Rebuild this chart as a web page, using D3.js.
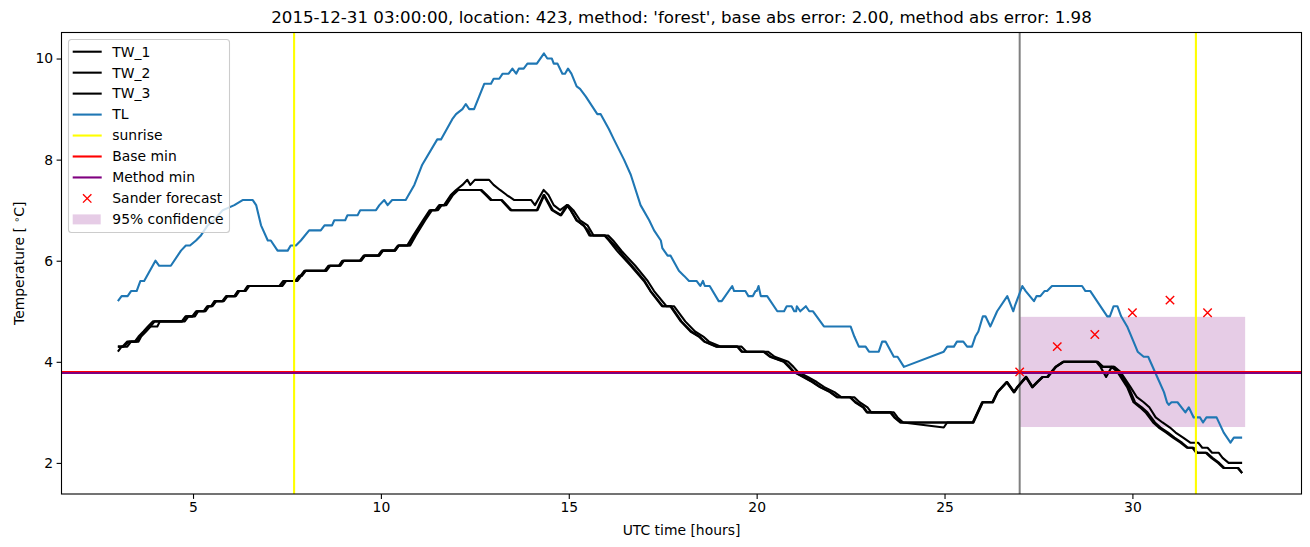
<!DOCTYPE html>
<html>
<head>
<meta charset="utf-8">
<script src="https://cdn.jsdelivr.net/npm/d3@7"></script>
<style>
  body { margin: 0; background: #fff; }
  svg { font-family: "DejaVu Sans", sans-serif; }
</style>
</head>
<body>
<div id="chart"></div>
<script>
// values: [UTC hour, temperature]
const tw1 = [
  [3.0,4.3],[3.12,4.3],[3.25,4.4],[3.45,4.4],[3.55,4.5],[3.68,4.6],[3.8,4.7],[3.93,4.8],[4.72,4.8],[4.82,4.9],
  [4.98,4.9],[5.08,5.0],[5.28,5.0],[5.38,5.1],[5.48,5.1],[5.57,5.2],[5.78,5.2],[5.88,5.3],[6.1,5.3],[6.19,5.4],
  [6.36,5.4],[6.45,5.5],[7.36,5.5],[7.46,5.6],[7.76,5.6],[7.86,5.7],[7.96,5.8],[8.5,5.8],[8.6,5.9],[8.88,5.9],
  [8.97,6.0],[9.44,6.0],[9.54,6.1],[9.92,6.1],[10.02,6.2],[10.35,6.2],[10.45,6.3],[10.75,6.3],[10.9,6.5],[11.15,6.8],
  [11.33,7.0],[11.48,7.0],[11.58,7.1],[11.7,7.1],[11.88,7.3],[12.03,7.4],[12.65,7.4],[12.79,7.3],[12.92,7.2],[13.2,7.2],
  [13.45,7.0],[14.15,7.0],[14.33,7.3],[14.55,7.0],[14.78,6.9],[14.95,7.1],[15.05,7.0],[15.2,6.8],[15.4,6.7],[15.55,6.5],
  [15.95,6.5],[16.07,6.4],[16.28,6.2],[16.4,6.1],[16.65,5.9],[17.0,5.6],[17.17,5.4],[17.48,5.1],[17.7,5.1],[17.98,4.8],
  [18.24,4.6],[18.46,4.5],[18.6,4.4],[18.93,4.3],[19.48,4.3],[19.6,4.2],[20.18,4.2],[20.35,4.1],[20.72,4.0],[20.85,3.9],
  [20.98,3.8],[21.24,3.7],[21.48,3.6],[21.68,3.5],[21.95,3.4],[22.13,3.3],[22.48,3.3],[22.62,3.2],[22.83,3.1],[22.93,3.0],
  [23.55,3.0],[23.66,2.9],[23.82,2.8],[25.75,2.8],[26.0,3.2],[26.27,3.2],[26.4,3.4],[26.65,3.6],[26.84,3.4],[26.93,3.5],
  [27.16,3.7],[27.33,3.5],[27.46,3.6],[27.6,3.7],[27.73,3.7],[27.95,3.9],[28.15,4.0],[29.04,4.0],[29.15,3.9],[29.3,3.7],
  [29.45,3.9],[29.6,3.8],[29.86,3.5],[30.03,3.2],[30.2,3.1],[30.35,3.0],[30.55,2.8],[30.7,2.7],[30.9,2.6],[31.08,2.5],
  [31.28,2.4],[31.45,2.3],[31.6,2.3],[31.7,2.2],[31.95,2.2],[32.1,2.1],[32.28,2.0],[32.42,1.9],[32.8,1.9],[32.92,1.8]
];
const tw2 = [
  [3.0,4.3],[3.15,4.3],[3.3,4.4],[3.5,4.4],[3.6,4.5],[3.72,4.6],[3.85,4.7],[4.05,4.7],[4.12,4.8],[4.78,4.8],
  [4.88,4.9],[5.05,4.9],[5.14,5.0],[5.33,5.0],[5.43,5.1],[5.52,5.1],[5.62,5.2],[5.82,5.2],[5.92,5.3],[6.14,5.3],
  [6.23,5.4],[6.4,5.4],[6.5,5.5],[7.3,5.5],[7.4,5.6],[7.72,5.6],[7.82,5.7],[7.9,5.7],[8.0,5.8],[8.55,5.8],
  [8.65,5.9],[8.92,5.9],[9.02,6.0],[9.48,6.0],[9.58,6.1],[9.96,6.1],[10.06,6.2],[10.38,6.2],[10.48,6.3],[10.78,6.3],
  [10.93,6.5],[11.18,6.8],[11.36,7.0],[11.52,7.0],[11.62,7.1],[11.74,7.1],[11.92,7.3],[12.06,7.4],[12.68,7.4],[12.82,7.3],
  [12.95,7.2],[13.22,7.2],[13.48,7.0],[14.17,7.0],[14.35,7.3],[14.58,7.0],[14.8,6.9],[14.98,7.1],[15.12,7.0],[15.3,6.8],
  [15.5,6.7],[15.66,6.5],[16.05,6.5],[16.18,6.4],[16.4,6.2],[16.52,6.1],[16.77,5.9],[17.1,5.6],[17.27,5.4],[17.6,5.1],
  [17.8,5.1],[18.1,4.8],[18.36,4.6],[18.58,4.5],[18.73,4.4],[19.05,4.3],[19.6,4.3],[19.73,4.2],[20.3,4.2],[20.48,4.1],
  [20.84,4.0],[20.98,3.9],[21.1,3.8],[21.36,3.7],[21.6,3.6],[21.8,3.5],[22.07,3.4],[22.25,3.3],[22.6,3.3],[22.74,3.2],
  [22.95,3.1],[23.05,3.0],[23.65,3.0],[23.75,2.9],[23.9,2.8],[24.98,2.7],[25.07,2.8],[25.77,2.8],[26.02,3.2],[26.29,3.2],
  [26.42,3.4],[26.67,3.6],[26.86,3.4],[26.95,3.5],[27.18,3.7],[27.35,3.5],[27.48,3.6],[27.62,3.7],[27.75,3.7],[27.97,3.9],
  [28.17,4.0],[29.06,4.0],[29.2,3.9],[29.5,3.9],[29.65,3.8],[29.9,3.5],[30.07,3.2],[30.25,3.1],[30.4,3.0],[30.6,2.8],
  [30.75,2.7],[30.95,2.6],[31.12,2.5],[31.32,2.4],[31.48,2.3],[31.63,2.3],[31.73,2.2],[31.98,2.2],[32.13,2.1],[32.31,2.0],
  [32.45,1.9],[32.82,1.9],[32.92,1.8]
];
const tw3 = [
  [3.0,4.2],[3.1,4.3],[3.25,4.3],[3.35,4.4],[3.55,4.4],[3.62,4.5],[3.75,4.6],[3.87,4.7],[3.98,4.8],[4.7,4.8],
  [4.8,4.9],[5.0,4.9],[5.1,5.0],[5.3,5.0],[5.4,5.1],[5.5,5.1],[5.6,5.2],[5.8,5.2],[5.9,5.3],[6.12,5.3],
  [6.2,5.4],[6.38,5.4],[6.47,5.5],[7.38,5.5],[7.48,5.6],[7.78,5.6],[7.88,5.7],[7.98,5.8],[8.52,5.8],[8.62,5.9],
  [8.9,5.9],[9.0,6.0],[9.46,6.0],[9.56,6.1],[9.95,6.1],[10.04,6.2],[10.38,6.2],[10.47,6.3],[10.7,6.3],[10.86,6.5],
  [11.12,6.8],[11.3,7.0],[11.45,7.0],[11.55,7.1],[11.68,7.1],[11.86,7.3],[12.0,7.4],[12.17,7.5],[12.3,7.6],[12.38,7.5],
  [12.5,7.6],[12.88,7.6],[13.0,7.5],[13.17,7.4],[13.35,7.3],[13.55,7.2],[14.0,7.2],[14.1,7.1],[14.33,7.4],[14.46,7.3],
  [14.6,7.1],[14.77,7.0],[14.95,7.1],[15.05,7.0],[15.22,6.8],[15.38,6.7],[15.52,6.6],[15.58,6.5],[15.97,6.5],[16.1,6.4],
  [16.35,6.2],[16.45,6.1],[16.68,5.9],[17.02,5.6],[17.18,5.4],[17.5,5.1],[17.72,5.1],[18.0,4.8],[18.26,4.6],[18.48,4.5],
  [18.62,4.4],[18.95,4.3],[19.5,4.3],[19.62,4.2],[20.2,4.2],[20.38,4.1],[20.74,4.0],[20.88,3.9],[21.0,3.8],[21.26,3.7],
  [21.5,3.6],[21.7,3.5],[21.97,3.4],[22.15,3.3],[22.5,3.3],[22.64,3.2],[22.85,3.1],[22.95,3.0],[23.58,3.0],[23.68,2.9],
  [23.84,2.8],[25.76,2.8],[26.01,3.2],[26.28,3.2],[26.41,3.4],[26.66,3.6],[26.85,3.4],[26.94,3.5],[27.17,3.7],[27.34,3.5],
  [27.47,3.6],[27.61,3.7],[27.74,3.7],[27.96,3.9],[28.16,4.0],[29.08,4.0],[29.22,3.9],[29.52,3.9],[29.68,3.8],[29.95,3.5],
  [30.12,3.3],[30.3,3.2],[30.45,3.1],[30.62,2.9],[30.8,2.8],[31.0,2.7],[31.15,2.6],[31.35,2.5],[31.54,2.4],[31.75,2.4],
  [31.86,2.3],[32.0,2.3],[32.12,2.2],[32.3,2.2],[32.4,2.1],[32.56,2.0],[32.92,2.0]
];
const tl = [
  [3.0,5.2],[3.1,5.3],[3.26,5.3],[3.35,5.4],[3.5,5.4],[3.6,5.6],[3.7,5.6],[4.0,6.0],[4.1,5.9],[4.41,5.9],
  [4.68,6.2],[4.81,6.3],[4.92,6.3],[5.08,6.4],[5.21,6.5],[5.39,6.7],[5.56,6.8],[5.79,7.0],[6.1,7.1],[6.32,7.2],
  [6.59,7.2],[6.68,7.1],[6.81,6.7],[6.99,6.4],[7.07,6.4],[7.25,6.2],[7.52,6.2],[7.6,6.3],[7.74,6.3],[7.87,6.4],
  [8.09,6.6],[8.4,6.6],[8.5,6.7],[8.7,6.7],[8.76,6.8],[9.05,6.8],[9.11,6.9],[9.38,6.9],[9.45,7.0],[9.87,7.0],
  [9.96,7.1],[10.09,7.2],[10.18,7.1],[10.3,7.2],[10.66,7.2],[10.89,7.5],[11.1,7.9],[11.5,8.4],[11.6,8.4],[11.9,8.8],
  [12.0,8.9],[12.17,9.0],[12.26,9.1],[12.35,9.0],[12.48,9.0],[12.75,9.5],[12.93,9.5],[13.0,9.6],[13.15,9.6],[13.24,9.7],
  [13.4,9.7],[13.5,9.8],[13.6,9.7],[13.67,9.8],[13.8,9.8],[13.9,9.9],[14.15,9.9],[14.34,10.1],[14.43,10.0],[14.55,10.0],
  [14.6,9.9],[14.7,9.9],[14.83,9.7],[14.9,9.7],[14.98,9.8],[15.07,9.7],[15.21,9.45],[15.3,9.4],[15.45,9.25],[15.76,8.9],
  [15.85,8.9],[16.07,8.6],[16.2,8.4],[16.47,8.0],[16.65,7.7],[16.91,7.1],[17.14,6.8],[17.27,6.6],[17.45,6.4],[17.49,6.25],
  [17.63,6.1],[17.71,6.1],[17.93,5.8],[18.07,5.7],[18.2,5.6],[18.4,5.6],[18.5,5.5],[18.57,5.6],[18.62,5.5],[18.75,5.5],
  [18.99,5.2],[19.07,5.2],[19.35,5.5],[19.4,5.4],[19.7,5.4],[19.78,5.3],[19.9,5.3],[19.97,5.4],[20.0,5.4],[20.05,5.5],
  [20.11,5.3],[20.28,5.3],[20.55,5.0],[20.73,5.0],[20.8,5.1],[20.93,5.1],[21.0,5.0],[21.05,5.0],[21.07,5.1],[21.16,5.0],
  [21.31,5.1],[21.4,5.0],[21.5,5.0],[21.79,4.7],[22.5,4.7],[22.6,4.5],[22.72,4.3],[22.9,4.3],[22.99,4.2],[23.25,4.2],
  [23.34,4.4],[23.43,4.4],[23.65,4.1],[23.75,4.1],[23.92,3.9],[24.98,4.2],[25.07,4.3],[25.25,4.3],[25.33,4.4],[25.5,4.4],
  [25.6,4.3],[25.73,4.3],[25.82,4.5],[25.9,4.6],[26.02,4.9],[26.09,4.9],[26.22,4.7],[26.4,5.0],[26.67,5.3],[26.83,5.0],
  [26.87,5.1],[27.07,5.5],[27.16,5.4],[27.38,5.2],[27.45,5.3],[27.55,5.3],[27.66,5.4],[27.73,5.4],[27.86,5.5],[28.66,5.5],
  [28.75,5.4],[28.88,5.4],[29.33,4.9],[29.4,4.9],[29.5,5.1],[29.6,5.1],[29.7,4.9],[29.86,4.7],[30.03,4.4],[30.14,4.2],
  [30.3,4.1],[30.42,4.1],[30.66,3.7],[30.84,3.4],[30.92,3.2],[30.97,3.15],[31.04,3.2],[31.2,3.2],[31.41,3.0],[31.5,3.1],
  [31.63,2.9],[31.8,2.9],[31.88,2.8],[31.97,2.9],[32.24,2.9],[32.43,2.6],[32.61,2.4],[32.7,2.5],[32.92,2.5]
];
const sunriseHours = [7.69, 31.69];
const forecastStart = 27.0;
const baseMin = 3.80;
const methodMin = 3.78;
const forecastHours = [27, 28, 29, 30, 31, 32];
const forecastTemps = [3.8, 4.3, 4.54, 4.97, 5.22, 4.97];
const confHours = [27, 33];
const confLow = 2.71;
const confHigh = 4.89;
const xTicks = [5, 10, 15, 20, 25, 30];
const yTicks = [2, 4, 6, 8, 10];
const legendLabels = ["TW_1", "TW_2", "TW_3", "TL", "sunrise", "Base min", "Method min", "Sander forecast", "95% confidence"];
const titleText = "2015-12-31 03:00:00, location: 423, method: 'forest', base abs error: 2.00, method abs error: 1.98";

// figure layout (matplotlib-like)
const W = 1310, H = 547;
const ax = { left: 61.5, right: 1301.5, top: 32.5, bottom: 494 };
const fs = 13.9;

const svg = d3.select("#chart").append("svg")
    .attr("width", W)
    .attr("height", H);

const x = d3.scaleLinear().domain([1.5, 34.5]).range([ax.left, ax.right]);
const y = d3.scaleLinear().domain([1.385, 10.515]).range([ax.bottom, ax.top]);

svg.append("clipPath").attr("id", "clip")
    .append("rect")
    .attr("x", ax.left).attr("y", ax.top)
    .attr("width", ax.right - ax.left).attr("height", ax.bottom - ax.top);

const plot = svg.append("g").attr("clip-path", "url(#clip)");

// confidence band
plot.append("rect")
    .attr("x", x(confHours[0]))
    .attr("y", y(confHigh))
    .attr("width", x(confHours[1]) - x(confHours[0]))
    .attr("height", y(confLow) - y(confHigh))
    .attr("fill", "purple")
    .attr("fill-opacity", 0.2);

const line = d3.line().x(d => x(d[0])).y(d => y(d[1]));

// forecast start marker
plot.append("line")
    .attr("x1", x(forecastStart)).attr("x2", x(forecastStart))
    .attr("y1", ax.top).attr("y2", ax.bottom)
    .attr("stroke", "gray").attr("stroke-width", 2);

[tw1, tw2, tw3].forEach(s => {
  plot.append("path").datum(s)
      .attr("d", line)
      .attr("fill", "none")
      .attr("stroke", "black")
      .attr("stroke-width", 2.1)
      .attr("stroke-linejoin", "round");
});

plot.append("path").datum(tl)
    .attr("d", line)
    .attr("fill", "none")
    .attr("stroke", "#1f77b4")
    .attr("stroke-width", 2.1)
    .attr("stroke-linejoin", "round");

plot.selectAll(".sunrise")
    .data(sunriseHours)
    .join("line")
    .attr("class", "sunrise")
    .attr("x1", d => x(d)).attr("x2", d => x(d))
    .attr("y1", ax.top).attr("y2", ax.bottom)
    .attr("stroke", "yellow").attr("stroke-width", 2.1);

plot.append("line")
    .attr("x1", ax.left).attr("x2", ax.right)
    .attr("y1", y(baseMin)).attr("y2", y(baseMin))
    .attr("stroke", "red").attr("stroke-width", 2.1);
plot.append("line")
    .attr("x1", ax.left).attr("x2", ax.right)
    .attr("y1", y(methodMin)).attr("y2", y(methodMin))
    .attr("stroke", "purple").attr("stroke-width", 2.1);

// forecast crosses
const m = 4.2;
plot.selectAll(".fc")
    .data(forecastHours.map((h, i) => [h, forecastTemps[i]]))
    .join("path")
    .attr("class", "fc")
    .attr("d", d => {
      const cx = x(d[0]), cy = y(d[1]);
      return `M${cx - m},${cy - m}L${cx + m},${cy + m}M${cx - m},${cy + m}L${cx + m},${cy - m}`;
    })
    .attr("stroke", "red")
    .attr("stroke-width", 1.4)
    .attr("fill", "none");

// frame
svg.append("rect")
    .attr("x", ax.left).attr("y", ax.top)
    .attr("width", ax.right - ax.left).attr("height", ax.bottom - ax.top)
    .attr("fill", "none").attr("stroke", "black").attr("stroke-width", 1.1);

// axes
const xAxis = svg.append("g")
    .attr("transform", `translate(0, ${ax.bottom})`)
    .call(d3.axisBottom(x).tickValues(xTicks).tickSize(4.9).tickPadding(3.5).tickSizeOuter(0));
const yAxis = svg.append("g")
    .attr("transform", `translate(${ax.left}, 0)`)
    .call(d3.axisLeft(y).tickValues(yTicks).tickSize(4.9).tickPadding(3.5).tickSizeOuter(0));
[xAxis, yAxis].forEach(g => {
  g.select(".domain").remove();
  g.selectAll("line").attr("stroke", "black").attr("stroke-width", 1.1);
  g.selectAll("text")
      .attr("font-family", "DejaVu Sans")
      .attr("font-size", fs)
      .attr("fill", "black");
});
xAxis.attr("font-size", null).attr("font-family", null);
yAxis.attr("font-size", null).attr("font-family", null);

svg.append("text")
    .attr("x", (ax.left + ax.right) / 2)
    .attr("y", 535)
    .attr("text-anchor", "middle")
    .attr("font-size", fs)
    .text("UTC time [hours]");

const ylab = svg.append("text")
    .attr("transform", `translate(23.5, ${(ax.top + ax.bottom) / 2}) rotate(-90)`)
    .attr("text-anchor", "middle")
    .attr("font-size", fs);
ylab.append("tspan").text("Temperature [ ");
ylab.append("tspan").attr("font-size", fs * 0.7).attr("baseline-shift", "40%").text("\u2218");
ylab.append("tspan").text("C]");

svg.append("text")
    .attr("x", (ax.left + ax.right) / 2)
    .attr("y", 23)
    .attr("text-anchor", "middle")
    .attr("font-size", 16.67)
    .text(titleText);

// legend
const lg = svg.append("g").attr("transform", "translate(68.5, 39.5)");
lg.append("rect")
    .attr("width", 161).attr("height", 193).attr("rx", 3)
    .attr("fill", "white").attr("fill-opacity", 0.8)
    .attr("stroke", "#cccccc").attr("stroke-width", 1.1);

const handles = [
  { kind: "line", color: "black" },
  { kind: "line", color: "black" },
  { kind: "line", color: "black" },
  { kind: "line", color: "#1f77b4" },
  { kind: "line", color: "yellow" },
  { kind: "line", color: "red" },
  { kind: "line", color: "purple" },
  { kind: "x", color: "red" },
  { kind: "patch", color: "purple" }
];
legendLabels.forEach((lab, i) => {
  const cy = 12.2 + i * 20.96;
  const h = handles[i];
  if (h.kind === "line") {
    lg.append("line").attr("x1", 4.2).attr("x2", 33.2).attr("y1", cy).attr("y2", cy)
        .attr("stroke", h.color).attr("stroke-width", 2.1);
  } else if (h.kind === "x") {
    const cx = 18.7;
    lg.append("path")
        .attr("d", `M${cx - m},${cy - m}L${cx + m},${cy + m}M${cx - m},${cy + m}L${cx + m},${cy - m}`)
        .attr("stroke", h.color).attr("stroke-width", 1.4).attr("fill", "none");
  } else {
    lg.append("rect").attr("x", 4.2).attr("y", cy - 5).attr("width", 28).attr("height", 10)
        .attr("fill", h.color).attr("fill-opacity", 0.2);
  }
  lg.append("text")
      .attr("x", 43.8).attr("y", cy)
      .attr("dy", "0.35em")
      .attr("font-size", fs)
      .text(lab);
});
</script>
</body>
</html>
